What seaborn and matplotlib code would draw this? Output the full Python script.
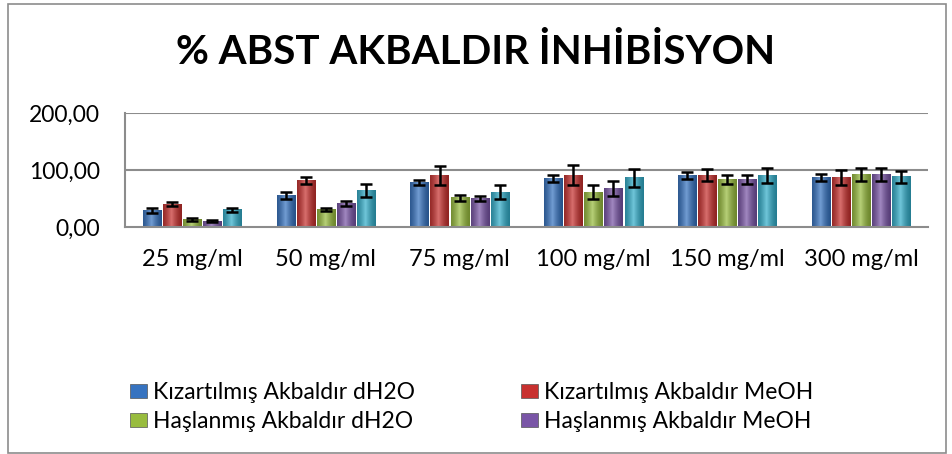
import matplotlib
matplotlib.use("Agg")
import matplotlib.pyplot as plt
import matplotlib.patches as mpatches
import matplotlib.ticker as ticker
import numpy as np
import pandas as pd
import seaborn as sns
from matplotlib.colors import to_rgb

categories = ["25 mg/ml", "50 mg/ml", "75 mg/ml", "100 mg/ml", "150 mg/ml", "300 mg/ml"]
series = ["Kızartılmış Akbaldır dH2O", "Kızartılmış Akbaldır MeOH",
          "Haşlanmış Akbaldır dH2O", "Haşlanmış Akbaldır MeOH", "Standart"]

kiz_dh2o = [29, 56, 78, 85, 90, 87]
kiz_meoh = [40, 82, 90, 91, 91, 87]
has_dh2o = [13, 31, 51, 61, 83, 92]
has_meoh = [10, 41, 50, 68, 84, 92]
standart = [30, 64, 61, 86, 91, 88]

kiz_dh2o_err = [4, 6, 5, 6, 6, 6]
kiz_meoh_err = [4, 6, 17, 17, 10, 13]
has_dh2o_err = [2, 3, 5, 12, 8, 11]
has_meoh_err = [1.5, 4, 4.5, 13, 8, 11]
standart_err = [4, 12, 12, 16, 13, 10]

colors = ["#3673C0", "#C8312F", "#98BC3E", "#7955A6", "#33AECA"]

values = [kiz_dh2o, kiz_meoh, has_dh2o, has_meoh, standart]
errors = [kiz_dh2o_err, kiz_meoh_err, has_dh2o_err, has_meoh_err, standart_err]

rows = []
for s, vals in zip(series, values):
    for c, v in zip(categories, vals):
        rows.append({"Konsantrasyon": c, "Seri": s, "Değer": v})
df = pd.DataFrame(rows)

sns.set_style("white")
plt.rcParams['font.family'] = ['Lato', 'DejaVu Sans']
plt.rcParams['text.color'] = 'black'
plt.rcParams['xtick.labelcolor'] = 'black'
plt.rcParams['ytick.labelcolor'] = 'black'

fig = plt.figure(figsize=(9.52, 4.54), dpi=100)
ax = fig.add_axes([125 / 952, 1 - 227 / 454, (928 - 125) / 952, (227 - 113) / 454])

sns.barplot(data=df, x="Konsantrasyon", y="Değer", hue="Seri", palette=colors,
            errorbar=None, width=0.75, gap=0.1, saturation=1, legend=False, ax=ax)


def shade(color):
    # glossy cylinder look like the Excel bars
    base = np.array(to_rgb(color))
    xs = np.linspace(0, 1, 64)
    light = 1 - np.abs(xs - 0.45) / 0.55
    light = np.clip(light, 0, 1) ** 1.5
    col = base * (0.72 + 0.28 * light)[:, None] + (1 - base) * (0.3 * light)[:, None]
    return np.clip(col, 0, 1)[None, :, :]


bar_groups = list(ax.containers)
for i, cont in enumerate(bar_groups):
    grad = shade(colors[i])
    for j, bar in enumerate(cont):
        x0, w, h = bar.get_x(), bar.get_width(), bar.get_height()
        bar.set_facecolor("none")
        bar.set_edgecolor("none")
        ax.imshow(grad, extent=[x0, x0 + w, 0, h], aspect="auto", zorder=2,
                  interpolation="bilinear")
        ax.errorbar(x0 + w / 2, h, yerr=errors[i][j], color="black", lw=1.8,
                    capsize=4.3, capthick=1.8, zorder=4)

ax.set_xlim(-0.5, len(categories) - 0.5)
ax.set_ylim(0, 200)
ax.set_yticks([0, 100, 200])
ax.yaxis.set_major_formatter(ticker.FuncFormatter(lambda v, p: f"{v:.2f}".replace(".", ",")))
ax.set_xlabel("")
ax.set_ylabel("")

for y in [100, 200]:
    ax.axhline(y, color="#8C8C8C", lw=1.5, zorder=1)
for side in ["top", "right"]:
    ax.spines[side].set_visible(False)
for side in ["left", "bottom"]:
    ax.spines[side].set_color("#8C8C8C")
    ax.spines[side].set_linewidth(1.5)

ax.tick_params(axis="x", length=0, pad=16, labelsize=17, labelcolor="black")
ax.tick_params(axis="y", length=4, color="#8C8C8C", pad=14, labelsize=16.5, labelcolor="black")

fig.text(476 / 952, 1 - 52 / 454, "% ABST AKBALDIR İNHİBİSYON", ha="center", va="center",
         fontsize=29, fontweight="bold", color="black")

handles = [mpatches.Patch(facecolor=c, edgecolor="#555555", lw=0.5) for c in colors]
leg_kw = dict(frameon=False, fontsize=16.5, handlelength=0.75, handleheight=0.55,
              handletextpad=0.25, labelspacing=0.35, borderpad=0, borderaxespad=0,
              loc="center left", labelcolor="black")
fig.legend([handles[0], handles[2]], [series[0], series[2]],
           bbox_to_anchor=(130 / 952, 1 - 407 / 454), **leg_kw)
fig.legend([handles[1], handles[3]], [series[1], series[3]],
           bbox_to_anchor=(521 / 952, 1 - 407 / 454), **leg_kw)

fig.patches.append(mpatches.Rectangle((8 / 952, 1 / 454), 938 / 952, 449 / 454,
                                      transform=fig.transFigure, fill=False,
                                      edgecolor="#8C8C8C", lw=1.2))

fig.savefig("out.png", dpi=100)
